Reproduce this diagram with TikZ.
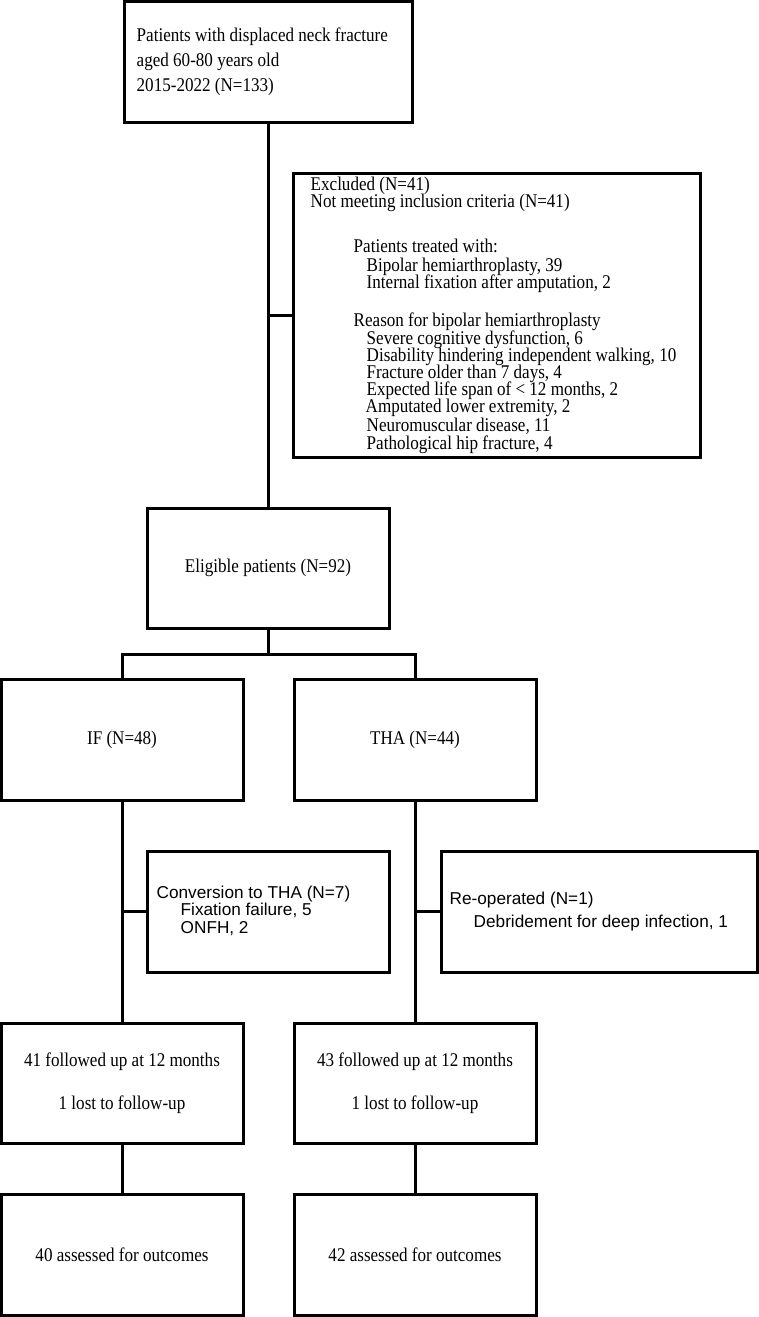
\documentclass[tikz,border=0pt]{standalone}
\usepackage{fontspec}
\setmainfont{Liberation Serif}[FakeStretch=0.88]
\newfontfamily\arialf{Liberation Sans}
\newcommand\srfA{\fontsize{19.4}{17.2}\selectfont\lineskiplimit=-30pt\lineskip=0pt}
\newcommand\srfB{\fontsize{19.4}{25}\selectfont\lineskiplimit=-30pt\lineskip=0pt}
\newcommand\srfC{\fontsize{19.4}{43}\selectfont}
\newcommand\sanA{\arialf\fontsize{17.2}{17.5}\selectfont\lineskiplimit=-30pt\lineskip=0pt}
\newcommand\sanB{\arialf\fontsize{17.2}{23}\selectfont}
\begin{document}
\begin{tikzpicture}[x=1pt,y=-1pt,
  box/.style n args={2}{draw, line width=3pt, minimum width=#1, minimum height=#2, inner sep=0pt, align=center, font=\srfC},
  txt/.style={inner sep=0pt, anchor=west, align=left},
  link/.style={line width=3pt}]
\useasboundingbox (0,0) rectangle (758,1317);
\fill[white] (0,0) rectangle (758,1317);
% boxes
\node[box={288pt}{121pt}] (top) at (268,61.5) {};
\node[box={407pt}{284pt}] (excl) at (496.5,315) {};
\node[box={242pt}{120pt}] (elig) at (268,568) {Eligible patients (N=92)};
\node[box={242pt}{121pt}] (IF) at (122,739.5) {IF (N=48)};
\node[box={242pt}{121pt}] (THA) at (415,739.5) {THA (N=44)};
\node[box={242pt}{121pt}] (conv) at (268,911.5) {};
\node[box={316pt}{121pt}] (reop) at (599,911.5) {};
\node[box={242pt}{120pt}] (fol1) at (122,1083) {41 followed up at 12 months\\1 lost to follow-up};
\node[box={242pt}{120pt}] (fol2) at (415,1083) {43 followed up at 12 months\\1 lost to follow-up};
\node[box={242pt}{121pt}] (out1) at (122,1254.5) {40 assessed for outcomes};
\node[box={242pt}{121pt}] (out2) at (415,1254.5) {42 assessed for outcomes};
% texts
\node[txt, font=\srfB, xshift=14pt] (toptxt) at (top.west) {Patients with displaced neck fracture\\aged 60-80 years old\\2015-2022 (N=133)};
\node[txt, font=\srfA, xshift=19pt] (excltxt) at (excl.west) {Excluded (N=41)\\
Not meeting inclusion criteria (N=41)\\[28pt]
\hspace*{43pt}Patients treated with:\\[1.8pt]
\hspace*{56pt}Bipolar hemiarthroplasty, 39\\
\hspace*{56pt}Internal fixation after amputation, 2\\[20.8pt]
\hspace*{43pt}Reason for bipolar hemiarthroplasty\\
\hspace*{56pt}Severe cognitive dysfunction, 6\\
\hspace*{56pt}Disability hindering independent walking, 10\\
\hspace*{56pt}Fracture older than 7 days, 4\\
\hspace*{56pt}Expected life span of < 12 months, 2\\
\hspace*{55pt}Amputated lower extremity, 2\\[1.8pt]
\hspace*{56pt}Neuromuscular disease, 11\\
\hspace*{56pt}Pathological hip fracture, 4};
\node[txt, font=\sanA, xshift=11pt, yshift=1pt] (convtxt) at (conv.west) {Conversion to THA (N=7)\\
\hspace*{24pt}Fixation failure, 5\\
\hspace*{24pt}ONFH, 2};
\node[txt, font=\sanB, xshift=10pt] (reoptxt) at (reop.west) {Re-operated (N=1)\\
\hspace*{24pt}Debridement for deep infection, 1};
% connectors
\coordinate (split) at (268,654);
\draw[link] (top.south) -- (elig.north);
\draw[link] (excl.west) -- (excl.west -| top.south);
\draw[link] (elig.south) -- (split);
\draw[link] (IF.north) |- (split) -| (THA.north);
\draw[link] (IF.south) -- (fol1.north);
\draw[link] (THA.south) -- (fol2.north);
\draw[link] (conv.west) -- (conv.west -| IF.south);
\draw[link] (reop.west) -- (reop.west -| THA.south);
\draw[link] (fol1.south) -- (out1.north);
\draw[link] (fol2.south) -- (out2.north);
\end{tikzpicture}
\end{document}
